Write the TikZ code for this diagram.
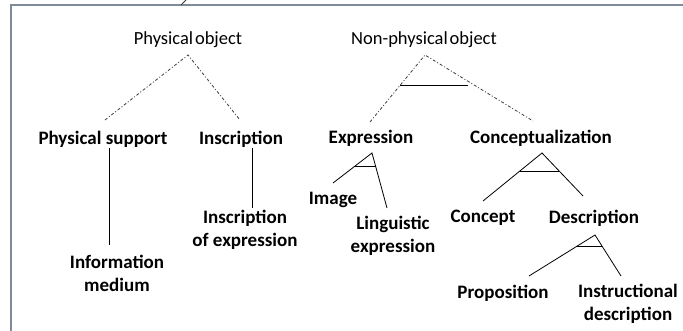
\documentclass[tikz,border=0pt]{standalone}
\usepackage{fontspec}
\setmainfont{Carlito}
\definecolor{framegray}{RGB}{128,139,153}
\definecolor{dotgray}{RGB}{60,60,60}
\tikzset{
  top/.style={font=\fontsize{18.5}{21}\selectfont, inner sep=0pt},
  lbl/.style={font=\bfseries\fontsize{19}{23}\selectfont, inner sep=0pt, align=center},
  dd/.style={draw=dotgray, line width=0.8pt, dash pattern=on 3pt off 2pt on 1pt off 2pt},
  tl/.style={draw=black, line width=0.8pt},
}
\begin{document}
\begin{tikzpicture}[x=1pt,y=-1pt]
\useasboundingbox (0,0) rectangle (683,331);
% frame
\draw[framegray, line width=2pt] (10,5) -- (683,5);
\draw[framegray, line width=2pt] (11,4) -- (11,331);
\draw[dotgray, line width=0.8pt] (181,5) -- (186,0);

% top level
\node[top] (po) at (188,40) {Physical\hspace{0.1em}object};
\node[top] (npo) at (424,40) {Non-physical\hspace{0.1em}object};

% second level
\node[lbl] (ps) at (103,139) {Physical support};
\node[lbl] (ins) at (241,139) {Inscription};
\node[lbl] (exp) at (371,138) {Expression};
\node[lbl] (con) at (541,138) {Conceptualization};

% third level
\node[lbl] (im) at (117,273) {Information\\medium};
\node[lbl] (ioe) at (245,230) {Inscription\\of expression};
\node[lbl] (img) at (333,200) {Image};
\node[lbl] (le) at (393,236) {Linguistic\\expression};
\node[lbl] (cpt) at (483,218) {Concept};
\node[lbl] (des) at (594,218) {Description};
\node[lbl] (pro) at (503,293) {Proposition};
\node[lbl] (ide) at (628,304) {Instructional\\description};

% coordinates
\coordinate (poA) at (188,55);
\coordinate (poL) at (105,120);
\coordinate (poR) at (240,120);
\coordinate (npA) at (425,55);
\coordinate (npL) at (370,122);
\coordinate (npR) at (533,121);
\coordinate (npBL) at (400.4,85);
\coordinate (npBR) at (468,85);
\coordinate (psT) at (109,148);
\coordinate (psB) at (109,245);
\coordinate (inT) at (252,148);
\coordinate (inB) at (252,208);
\coordinate (exA) at (372,153);
\coordinate (exL) at (333,183);
\coordinate (exR) at (387,208);
\coordinate (exBL) at (355.1,166);
\coordinate (exBR) at (375.5,166);
\coordinate (coA) at (542,153);
\coordinate (coL) at (483,201);
\coordinate (coR) at (583,196);
\coordinate (coBL) at (519.9,171);
\coordinate (coBR) at (559.2,171);
\coordinate (deA) at (595,235);
\coordinate (deL) at (529,276);
\coordinate (deR) at (621,276);
\coordinate (deBL) at (577.3,246);
\coordinate (deBR) at (602,246);

% dash-dot connectors
\draw[dd] (poL) -- (poA) -- (poR);
\draw[dd] (npL) -- (npA) -- (npR);
\draw[tl] (npBL) -- (npBR);

% solid connectors
\draw[tl] (psT) -- (psB);
\draw[tl] (inT) -- (inB);
\draw[tl] (exL) -- (exA) -- (exR);
\draw[tl] (exBL) -- (exBR);
\draw[tl] (coL) -- (coA) -- (coR);
\draw[tl] (coBL) -- (coBR);
\draw[tl] (deL) -- (deA) -- (deR);
\draw[tl] (deBL) -- (deBR);
\end{tikzpicture}
\end{document}
